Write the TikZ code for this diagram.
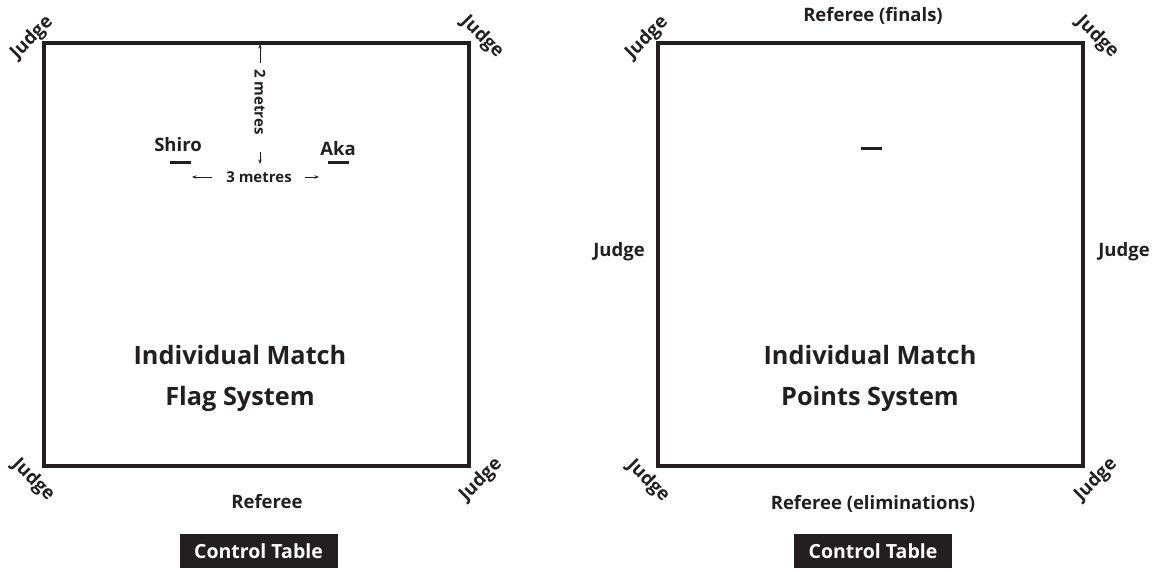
\documentclass[tikz,border=0pt]{standalone}
\usepackage{fontspec}
\setmainfont{Open Sans}
\usetikzlibrary{arrows.meta}
\definecolor{ink}{HTML}{231F20}
\begin{document}
\begin{tikzpicture}[x=1pt,y=-1pt,
  lbl/.style={font=\bfseries\fontsize{18.5}{20}\selectfont, text=ink, inner sep=0pt},
  dimtxt/.style={font=\bfseries\fontsize{15}{17}\selectfont, text=ink, inner sep=0pt},
  big/.style={font=\bfseries\fontsize{25.3}{41}\selectfont, text=ink, inner sep=0pt, align=center},
  sq/.style={draw=ink, line width=3.5pt},
  bar/.style={draw=ink, line width=3pt},
  dim/.style={draw=ink, line width=0.8pt, -{Stealth[length=4.5pt,width=3.5pt]}},
  ctab/.style={fill=ink, text=white, font=\bfseries\fontsize{19.5}{21}\selectfont, minimum width=158pt, minimum height=34pt, inner sep=0pt}
]
\useasboundingbox (0,0) rectangle (1160,572);
% left square
\draw[sq] (44,43) rectangle (469,466);
\node[lbl, rotate=45] (ltl) at (32,38) {Judge};
\node[lbl, rotate=-45] (ltr) at (482,37) {Judge};
\node[lbl, rotate=-45] (lbl) at (33,480) {Judge};
\node[lbl, rotate=45] (lbr) at (481,480) {Judge};
\node[dimtxt, rotate=-90] (two) at (260,102) {2 metres};
\coordinate (topmid) at (260,44);
\coordinate (tw1) at (260,63);
\coordinate (tw2) at (260,152);
\coordinate (dn) at (260,164);
\draw[dim] (tw1) -- (topmid);
\draw[dim] (tw2) -- (dn);
\node[lbl] (shiro) at (178,145) {Shiro};
\node[lbl] (aka) at (338,149) {Aka};
\draw[bar] (170,163) -- (191,163);
\draw[bar] (328,163) -- (349,163);
\node[dimtxt] (three) at (259,177) {3 metres};
\coordinate (la1) at (212,177);
\coordinate (la2) at (192,177);
\coordinate (ra1) at (305,177);
\coordinate (ra2) at (319,177);
\draw[dim] (la1) -- (la2);
\draw[dim] (ra1) -- (ra2);
\node[big] (flag) at (240,378) {Individual Match\\Flag System};
\node[lbl] (lref) at (267,502) {Referee};
\node[ctab] (lct) at (258.5,551) {Control Table};
% right square
\draw[sq] (658,43) rectangle (1083,466);
\node[lbl] (rfin) at (873,16) {Referee (finals)};
\node[lbl, rotate=45] (rtl) at (647,38) {Judge};
\node[lbl, rotate=-45] (rtr) at (1097,37) {Judge};
\node[lbl] (rl) at (619,252) {Judge};
\node[lbl] (rr) at (1124,252) {Judge};
\node[lbl, rotate=-45] (rbl) at (648,481) {Judge};
\node[lbl, rotate=45] (rbr) at (1096,480) {Judge};
\draw[bar] (861,149) -- (882,149);
\node[big] (pts) at (870,378) {Individual Match\\Points System};
\node[lbl] (relim) at (873,504) {Referee (eliminations)};
\node[ctab] (rct) at (873,551) {Control Table};
\end{tikzpicture}
\end{document}
